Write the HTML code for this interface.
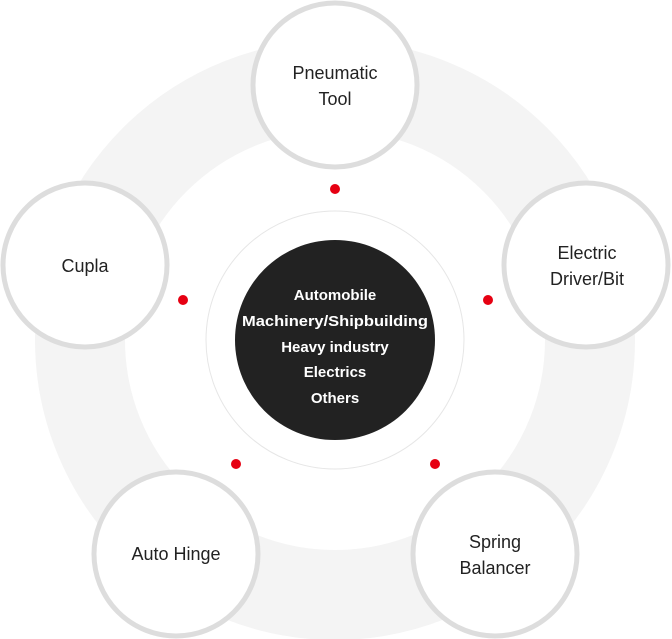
<!DOCTYPE html>
<html><head><style>html,body{margin:0;padding:0;background:#fff}svg{display:block}</style></head>
<body>
<svg width="672" height="639" viewBox="0 0 672 639" xmlns="http://www.w3.org/2000/svg">
<circle cx="335" cy="340" r="255" fill="none" stroke="#f4f4f4" stroke-width="90"/>
<circle cx="335" cy="340" r="129" fill="#fff" stroke="#e6e6e6" stroke-width="1"/>
<circle cx="335" cy="340" r="100" fill="#222"/>
<g fill="#fff" font-family="Liberation Sans, sans-serif" font-size="15" font-weight="bold" text-anchor="middle">
<text x="335" y="300">Automobile</text>
<text x="335" y="326" textLength="186" lengthAdjust="spacingAndGlyphs">Machinery/Shipbuilding</text>
<text x="335" y="352">Heavy industry</text>
<text x="335" y="377">Electrics</text>
<text x="335" y="403">Others</text>
</g>
<g fill="#fff" stroke="#dddddd" stroke-width="5">
<circle cx="335" cy="85" r="82"/>
<circle cx="85" cy="265" r="82"/>
<circle cx="586" cy="265" r="82"/>
<circle cx="176" cy="554" r="82"/>
<circle cx="495" cy="554" r="82"/>
</g>
<g fill="#e60012">
<circle cx="335" cy="189" r="5"/>
<circle cx="183" cy="300" r="5"/>
<circle cx="488" cy="300" r="5"/>
<circle cx="236" cy="464" r="5"/>
<circle cx="435" cy="464" r="5"/>
</g>
<g fill="#222" font-family="Liberation Sans, sans-serif" font-size="18" text-anchor="middle">
<text x="335" y="79">Pneumatic</text>
<text x="335" y="105">Tool</text>
<text x="85" y="272">Cupla</text>
<text x="587" y="259">Electric</text>
<text x="587" y="285">Driver/Bit</text>
<text x="176" y="560">Auto Hinge</text>
<text x="495" y="548">Spring</text>
<text x="495" y="574">Balancer</text>
</g>
</svg>
</body></html>
